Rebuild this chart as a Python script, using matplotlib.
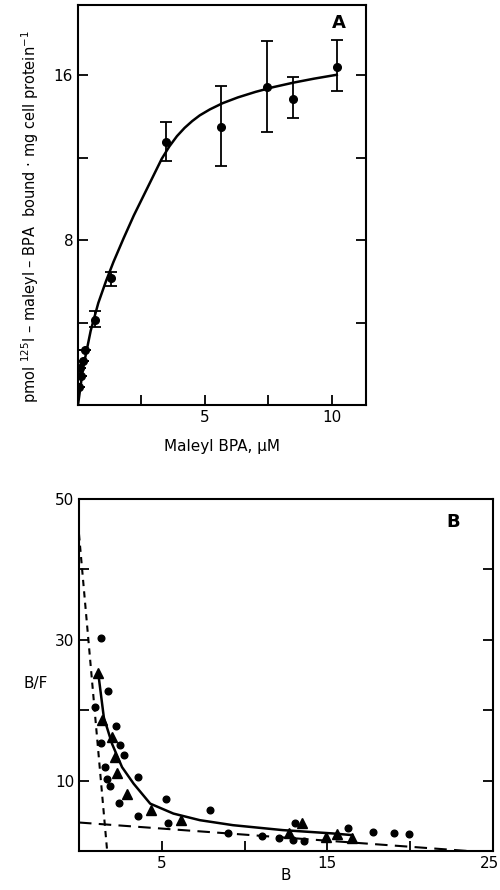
import matplotlib
matplotlib.use('Agg')
import matplotlib.pyplot as plt
import matplotlib.transforms as mtransforms

# panel A: binding vs concentration
a_x = [0.03, 0.09, 0.13, 0.2, 0.27, 0.66, 1.32, 3.46, 5.62, 7.43, 8.49, 10.19]
a_y = [0.88, 1.77, 1.4, 2.13, 2.67, 4.13, 6.16, 12.78, 13.51, 15.43, 14.86, 16.4]
a_err_lo = [0, 0, 0, 0, 0, 0.37, 0.40, 0.93, 1.89, 2.16, 0.92, 1.17]
a_err_hi = [0, 0, 0, 0, 0, 0.41, 0.29, 0.94, 1.95, 2.24, 1.06, 1.30]
a_fit_x = [0, 0.2, 0.5, 0.8, 1.1, 1.4, 1.8, 2.2, 2.6, 3.0, 3.3, 3.6, 3.9, 4.2,
           4.5, 4.8, 5.2, 5.7, 6.3, 7.0, 7.7, 8.5, 9.3, 10.2]
a_fit_y = [0, 1.8, 3.6, 4.95, 6.0, 6.95, 8.1, 9.2, 10.2, 11.2, 11.95, 12.55, 13.05, 13.45,
           13.78, 14.06, 14.35, 14.65, 14.93, 15.2, 15.43, 15.65, 15.84, 16.03]

# panel B: Scatchard plot
b_circ_x = [1.30, 1.76, 0.94, 1.30, 2.26, 2.50, 2.74, 1.56, 1.70, 1.90, 2.40, 3.56, 3.54,
            5.26, 5.40, 7.90, 9.0, 11.04, 12.06, 12.90, 13.06, 13.60, 16.24, 17.76, 19.0, 19.94]
b_circ_y = [30.27, 22.74, 20.48, 15.35, 17.75, 15.07, 13.66, 11.91, 10.21, 9.18, 6.88, 10.49, 4.94,
            7.34, 3.91, 5.79, 2.59, 2.12, 1.79, 1.55, 4.0, 1.46, 3.2, 2.64, 2.5, 2.36]
b_tri_x = [1.16, 1.40, 2.0, 2.20, 2.30, 2.90, 4.34, 6.16, 13.46, 12.66, 14.90, 15.60, 16.5]
b_tri_y = [25.3, 18.6, 16.15, 13.3, 11.06, 8.05, 5.89, 4.38, 4.0, 2.49, 2.02, 2.36, 1.79]
b_fit_x = [1.16, 1.50, 2.0, 2.60, 3.30, 4.30, 5.70, 7.30, 9.30, 12.30, 15.30, 16.5]
b_fit_y = [25.3, 18.97, 15.2, 11.91, 9.56, 6.73, 5.32, 4.38, 3.67, 2.97, 2.5, 2.26]
high_aff_x = [0, 1.7]
high_aff_y = [45, 0]
low_aff_x = [0, 23.5]
low_aff_y = [4.05, 0]

plt.rcParams['font.family'] = ['DejaVu Sans']
plt.rcParams['font.size'] = 10

fig = plt.figure(figsize=(5, 8.9), dpi=100)

# ---- panel A
ax1 = fig.add_axes([0.156, 0.545, 0.576, 0.449])
ax1.plot(a_fit_x, a_fit_y, color='black', lw=1.8)
ax1.errorbar(a_x, a_y, yerr=[a_err_lo, a_err_hi], fmt='o', color='black',
             ms=5.5, elinewidth=1.3, capsize=4, capthick=1.3)
ax1.set_xlim(0, 11.35)
ax1.set_ylim(0, 19.4)
ax1.set_xticks([2.5, 5, 7.5, 10])
ax1.set_xticklabels(['', '5', '', '10'])
ax1.set_yticks([4, 8, 12, 16])
ax1.set_yticklabels(['', '8', '', '16'])
ax1.tick_params(direction='in', length=7, width=1.3, right=True, labelsize=11)
ax1.set_xlabel('Maleyl BPA, \u03bcM', fontsize=11, labelpad=10)
ax1.set_ylabel('pmol $^{125}$I \u2013 maleyl \u2013 BPA  bound \u00b7 mg cell protein$^{-1}$',
               fontsize=10.5)
ax1.yaxis.set_label_coords(-0.13, 0.47)
ax1.text(0.905, 0.955, 'A', transform=ax1.transAxes, fontsize=13,
         fontweight='bold', ha='center', va='center')
for s in ax1.spines.values():
    s.set_linewidth(1.5)

# ---- panel B
ax2 = fig.add_axes([0.158, 0.0438, 0.828, 0.3955])
ax2.plot(high_aff_x, high_aff_y, color='black', lw=1.5, ls=(0, (3, 2.5)))
ax2.plot(low_aff_x, low_aff_y, color='black', lw=1.5, ls=(0, (6, 3.5)))
ax2.plot(b_fit_x, b_fit_y, color='black', lw=1.8)
ax2.plot(b_circ_x, b_circ_y, 'o', color='black', ms=4.8)
ax2.plot(b_tri_x, b_tri_y, '^', color='black', ms=7)
ax2.set_xlim(0, 25)
ax2.set_ylim(0, 50)
ax2.set_xticks([5, 10, 15, 20, 25])
ax2.set_xticklabels(['5', '', '15', '', '25'])
ax2.set_yticks([10, 20, 30, 40, 50])
ax2.set_yticklabels(['10', '', '30', '', '50'])
ax2.tick_params(direction='in', length=7, width=1.3, right=True, labelsize=11)
last = ax2.get_xticklabels()[-1]
last.set_horizontalalignment('right')
last.set_transform(last.get_transform() + mtransforms.ScaledTranslation(6 / 100, 0, fig.dpi_scale_trans))
ax2.set_xlabel('B', fontsize=11, labelpad=-2)
ax2.set_ylabel('B/F', fontsize=11, rotation=0)
ax2.yaxis.set_label_coords(-0.105, 0.455)
ax2.text(0.905, 0.935, 'B', transform=ax2.transAxes, fontsize=13,
         fontweight='bold', ha='center', va='center')
for s in ax2.spines.values():
    s.set_linewidth(1.5)

fig.savefig('out.png', dpi=100)
